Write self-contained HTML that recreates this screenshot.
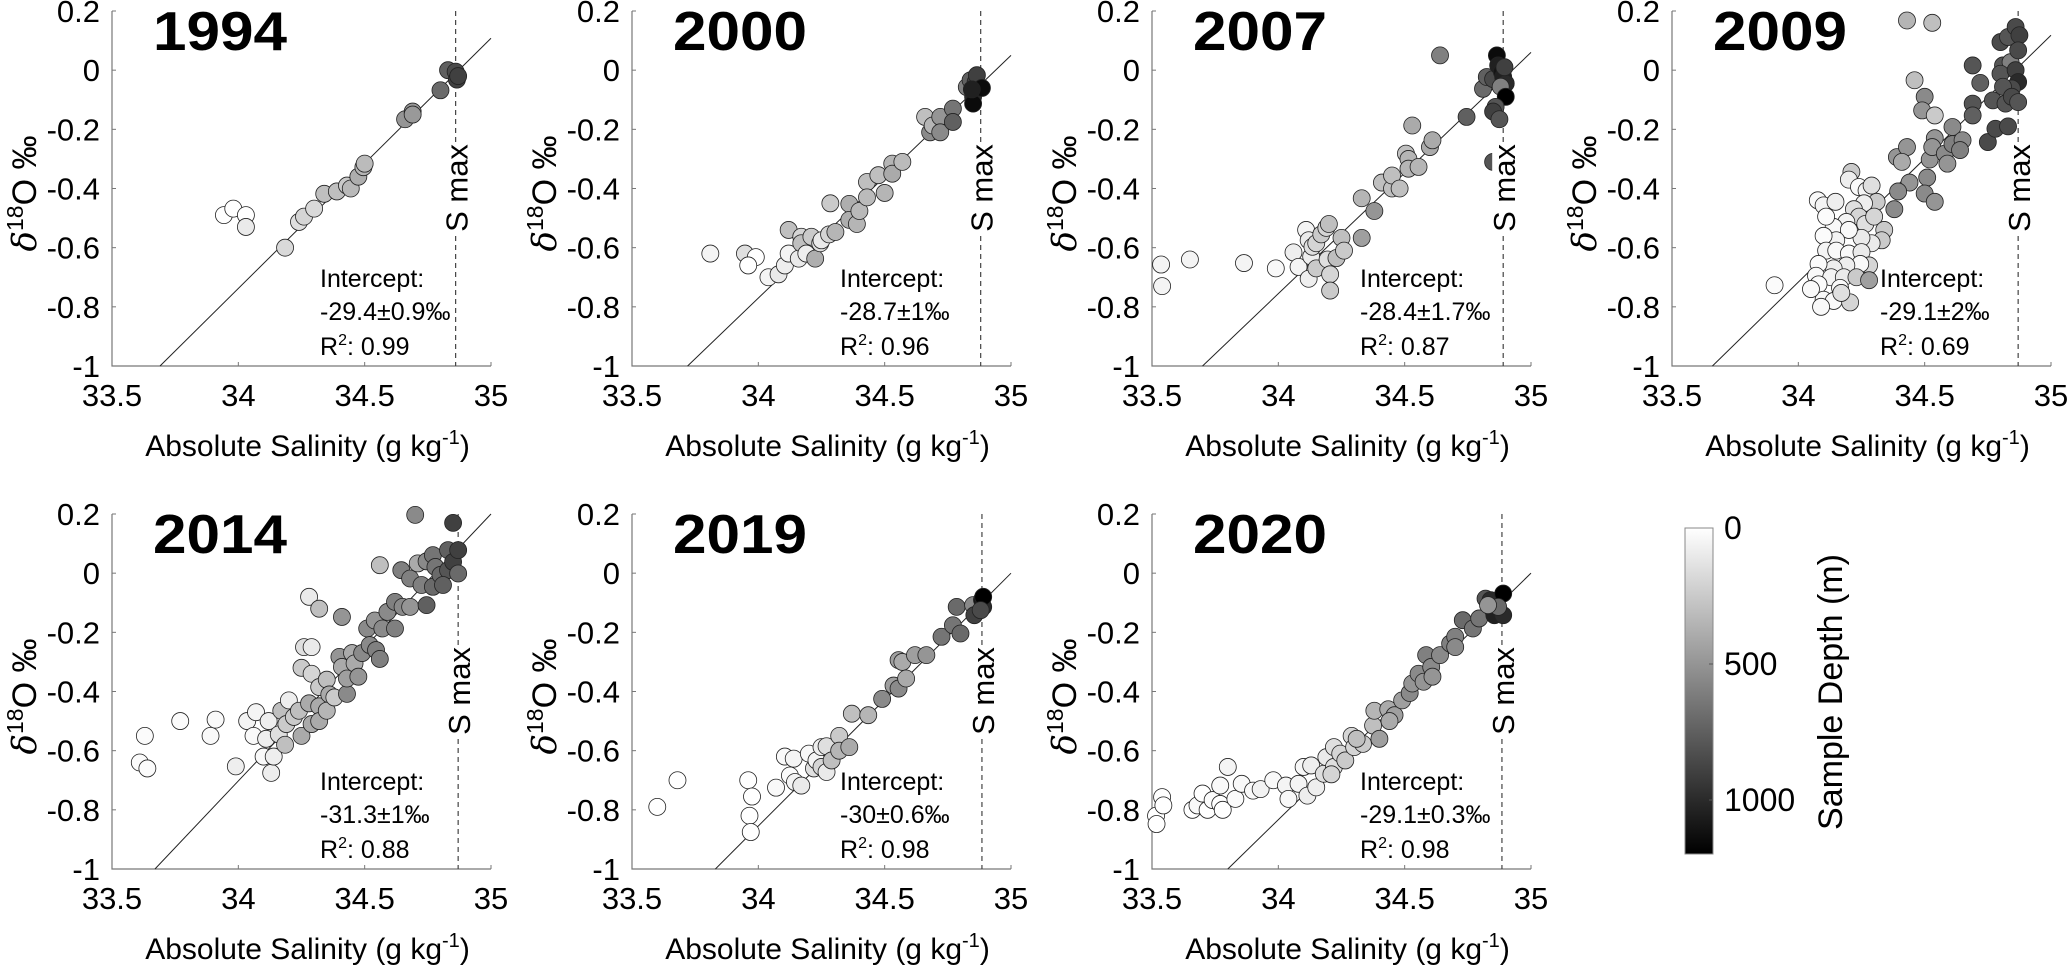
<!DOCTYPE html>
<html><head><meta charset="utf-8"><style>
body{margin:0;background:#fff}
svg{display:block;font-family:"Liberation Sans",Arial,sans-serif}
</style></head><body>
<svg id="fig" width="2067" height="965" viewBox="0 0 2067 965">
<defs><linearGradient id="cbg" x1="0" y1="0" x2="0" y2="1"><stop offset="0" stop-color="#fff"/><stop offset="1" stop-color="#000"/></linearGradient></defs>
<g>
<rect x="1685" y="528" width="28" height="326" fill="url(#cbg)" stroke="#888" stroke-width="1"/>
<line x1="1709" y1="664" x2="1713" y2="664" stroke="#555"/>
<line x1="1709" y1="800" x2="1713" y2="800" stroke="#555"/>
<text x="1724" y="539" font-size="32">0</text>
<text x="1724" y="675" font-size="32">500</text>
<text x="1724" y="811" font-size="32">1000</text>
<text transform="translate(1842,692) rotate(-90)" text-anchor="middle" font-size="34">Sample Depth (m)</text>
</g>
</svg>
<script>
const years=["1994","2000","2007","2009","2014","2019","2020"];
const intercepts=["-29.4±0.9‰","-28.7±1‰","-28.4±1.7‰","-29.1±2‰","-31.3±1‰","-30±0.6‰","-29.1±0.3‰"];
const r2=["0.99","0.96","0.87","0.69","0.88","0.98","0.98"];
const smax=[34.86,34.88,34.89,34.87,34.87,34.885,34.885];
const fitX0=[33.69,33.72,33.70,33.66,33.67,33.83,33.80];
const fitY1=[0.108,0.05,0.06,0.118,0.2,0.0,0.0];
const xTicks=[33.5,34,34.5,35];
const xTickLabels=["33.5","34","34.5","35"];
const yTicks=[0.2,0,-0.2,-0.4,-0.6,-0.8,-1];
const yTickLabels=["0.2","0","-0.2","-0.4","-0.6","-0.8","-1"];

const sal1994=[33.943,33.98,34.03,34.03,34.185,34.24,34.26,34.30,34.34,34.39,34.43,34.445,34.475,34.495,34.50,34.66,34.69,34.69,34.80,34.83,34.86,34.865,34.87];
const d1994=[-0.49,-0.468,-0.49,-0.53,-0.60,-0.513,-0.495,-0.468,-0.418,-0.41,-0.39,-0.40,-0.36,-0.328,-0.316,-0.166,-0.14,-0.15,-0.068,0.0,-0.005,-0.032,-0.02];
const dep1994=[0,0,0,100,180,150,200,180,300,300,250,330,380,350,320,500,480,480,700,750,850,900,900];

const sal2000=[33.81,33.947,33.99,33.96,34.04,34.08,34.105,34.12,34.12,34.16,34.17,34.17,34.19,34.21,34.225,34.245,34.25,34.285,34.28,34.305,34.36,34.36,34.39,34.40,34.43,34.43,34.475,34.50,34.53,34.53,34.57,34.66,34.68,34.69,34.72,34.72,34.77,34.77,34.825,34.84,34.86,34.865,34.85,34.85,34.885,34.845];
const d2000=[-0.62,-0.62,-0.632,-0.66,-0.70,-0.69,-0.66,-0.54,-0.62,-0.637,-0.563,-0.585,-0.62,-0.563,-0.637,-0.585,-0.575,-0.45,-0.555,-0.547,-0.452,-0.506,-0.52,-0.476,-0.378,-0.43,-0.355,-0.415,-0.316,-0.35,-0.31,-0.158,-0.21,-0.187,-0.158,-0.21,-0.13,-0.175,-0.057,-0.034,-0.04,-0.017,-0.09,-0.113,-0.06,-0.065];
const dep2000=[50,150,0,0,50,100,80,300,50,100,200,300,80,250,380,150,100,250,200,350,380,380,350,330,300,320,300,350,350,400,320,300,550,350,500,550,650,750,600,750,900,900,1000,1150,1150,1050];

const sal2007=[33.536,33.54,33.65,33.864,33.99,34.06,34.08,34.11,34.12,34.12,34.13,34.135,34.15,34.15,34.17,34.19,34.195,34.20,34.205,34.205,34.23,34.25,34.26,34.33,34.33,34.38,34.41,34.45,34.45,34.48,34.505,34.515,34.515,34.555,34.53,34.60,34.61,34.64,34.745,34.81,34.825,34.85,34.865,34.87,34.885,34.89,34.90,34.88,34.90,34.86,34.85,34.875,34.85,34.895];
const d2007=[-0.657,-0.73,-0.64,-0.652,-0.67,-0.616,-0.665,-0.54,-0.705,-0.575,-0.63,-0.597,-0.585,-0.67,-0.555,-0.533,-0.64,-0.52,-0.69,-0.745,-0.635,-0.567,-0.61,-0.433,-0.567,-0.476,-0.38,-0.40,-0.356,-0.40,-0.282,-0.30,-0.333,-0.327,-0.187,-0.26,-0.237,0.05,-0.158,-0.063,-0.023,-0.03,0.05,0.016,-0.006,-0.023,-0.045,-0.056,-0.09,-0.124,-0.14,-0.166,-0.31,0.01];
const dep2007=[50,50,50,50,30,80,50,50,80,100,80,150,200,250,250,200,150,300,200,250,300,300,250,350,450,500,300,300,300,300,300,350,350,350,400,400,400,600,750,700,750,850,1150,1050,1100,1050,1000,600,1200,800,900,800,800,900];

const sal2009=[33.906,34.43,34.53,34.46,34.50,34.49,34.54,34.39,34.43,34.41,34.44,34.395,34.38,34.51,34.50,34.54,34.52,34.54,34.53,34.58,34.59,34.61,34.61,34.65,34.64,34.69,34.72,34.69,34.69,34.75,34.78,34.83,34.77,34.80,34.83,34.86,34.875,34.81,34.84,34.80,34.86,34.87,34.845,34.81,34.82,34.845,34.87,34.87,34.077,34.10,34.147,34.21,34.20,34.24,34.27,34.29,34.31,34.26,34.22,34.24,34.19,34.14,34.11,34.265,34.30,34.34,34.33,34.29,34.25,34.20,34.15,34.10,34.11,34.15,34.20,34.25,34.28,34.245,34.19,34.14,34.08,34.07,34.13,34.18,34.23,34.28,34.08,34.165,34.10,34.14,34.205,34.17,34.09,34.05];
const d2009=[-0.727,0.168,0.16,-0.034,-0.09,-0.136,-0.153,-0.294,-0.26,-0.31,-0.38,-0.41,-0.47,-0.363,-0.417,-0.445,-0.302,-0.23,-0.26,-0.282,-0.316,-0.192,-0.25,-0.237,-0.27,0.016,-0.043,-0.113,-0.153,-0.243,-0.198,-0.19,-0.102,0.095,0.112,0.146,0.118,0.016,0.027,-0.012,0.0,-0.04,-0.062,-0.056,-0.113,-0.09,-0.108,0.067,-0.44,-0.457,-0.445,-0.344,-0.37,-0.395,-0.407,-0.39,-0.445,-0.45,-0.47,-0.495,-0.513,-0.53,-0.495,-0.52,-0.495,-0.54,-0.575,-0.585,-0.567,-0.54,-0.575,-0.56,-0.61,-0.61,-0.62,-0.615,-0.66,-0.655,-0.66,-0.67,-0.655,-0.695,-0.70,-0.70,-0.70,-0.71,-0.724,-0.736,-0.776,-0.78,-0.785,-0.753,-0.80,-0.74];
const dep2009=[20,350,300,300,550,500,250,500,500,400,500,550,550,550,550,500,500,500,500,550,500,550,600,550,600,800,750,800,750,850,850,850,800,850,800,850,900,800,600,800,900,1000,850,800,800,850,800,850,30,50,80,250,80,30,50,150,250,80,150,200,50,30,20,150,200,250,250,100,100,30,50,20,50,30,30,100,200,30,80,80,20,30,50,100,250,450,20,30,30,30,200,150,30,30];

const sal2014=[33.61,33.64,33.63,33.77,33.89,33.91,33.99,34.035,34.07,34.06,34.10,34.11,34.13,34.12,34.14,34.16,34.17,34.185,34.19,34.20,34.22,34.24,34.25,34.25,34.26,34.29,34.28,34.32,34.29,34.28,34.29,34.32,34.32,34.32,34.35,34.36,34.35,34.38,34.40,34.41,34.43,34.43,34.41,34.45,34.46,34.475,34.49,34.51,34.52,34.54,34.545,34.56,34.57,34.59,34.62,34.62,34.65,34.68,34.56,34.645,34.68,34.70,34.71,34.745,34.725,34.745,34.77,34.78,34.77,34.80,34.83,34.83,34.85,34.85,34.87,34.87,34.81];
const d2014=[-0.64,-0.66,-0.55,-0.50,-0.55,-0.495,-0.653,-0.50,-0.47,-0.55,-0.62,-0.56,-0.675,-0.50,-0.62,-0.545,-0.465,-0.58,-0.51,-0.43,-0.486,-0.465,-0.32,-0.55,-0.25,-0.25,-0.08,-0.12,-0.34,-0.44,-0.51,-0.385,-0.45,-0.50,-0.36,-0.41,-0.465,-0.42,-0.283,-0.317,-0.408,-0.356,-0.148,-0.27,-0.305,-0.35,-0.27,-0.187,-0.243,-0.16,-0.26,-0.29,-0.187,-0.131,-0.187,-0.097,-0.114,-0.114,0.027,0.01,-0.018,0.197,0.033,0.04,-0.04,-0.108,0.061,0.021,-0.046,-0.006,0.078,0.01,0.17,0.038,0.078,-0.001,-0.04];
const dep2014=[20,20,20,20,30,30,80,50,50,30,30,80,80,80,80,150,300,300,250,80,250,300,250,400,150,100,100,300,200,400,400,250,400,400,300,400,350,250,500,400,550,450,500,400,400,500,550,550,550,500,600,600,550,550,600,600,550,500,300,600,600,550,400,550,600,750,650,650,700,700,750,800,900,900,900,700,750];

const sal2019=[33.60,33.68,33.96,33.975,33.965,33.97,34.07,34.105,34.14,34.125,34.145,34.17,34.20,34.22,34.23,34.25,34.25,34.27,34.27,34.29,34.32,34.32,34.36,34.37,34.435,34.49,34.535,34.555,34.555,34.57,34.585,34.62,34.665,34.725,34.77,34.80,34.785,34.85,34.855,34.885,34.89,34.89,34.88];
const d2019=[-0.79,-0.70,-0.70,-0.755,-0.82,-0.875,-0.725,-0.62,-0.627,-0.684,-0.706,-0.718,-0.61,-0.66,-0.633,-0.588,-0.655,-0.672,-0.585,-0.633,-0.55,-0.60,-0.588,-0.475,-0.48,-0.425,-0.38,-0.39,-0.294,-0.30,-0.356,-0.277,-0.277,-0.215,-0.176,-0.204,-0.114,-0.108,-0.142,-0.09,-0.114,-0.08,-0.125];
const dep2019=[0,0,0,0,0,0,30,30,50,20,50,100,30,150,50,80,200,100,150,300,250,350,400,300,350,550,450,550,450,400,400,450,500,650,650,700,700,550,900,1100,1000,1200,850];

const sal2020=[33.516,33.518,33.54,33.545,33.66,33.68,33.70,33.72,33.74,33.77,33.78,33.80,33.77,33.83,33.855,33.90,33.93,33.98,34.03,34.04,34.08,34.10,34.115,34.13,34.15,34.18,34.19,34.22,34.22,34.245,34.265,34.29,34.30,34.335,34.375,34.40,34.38,34.435,34.46,34.49,34.52,34.53,34.555,34.575,34.585,34.605,34.64,34.68,34.70,34.73,34.77,34.795,34.82,34.84,34.85,34.855,34.89,34.89,34.87,34.83,34.70,34.61,34.44,34.31,34.21];
const d2020=[-0.82,-0.848,-0.757,-0.785,-0.80,-0.785,-0.745,-0.80,-0.767,-0.78,-0.80,-0.655,-0.718,-0.763,-0.712,-0.735,-0.73,-0.70,-0.718,-0.763,-0.712,-0.655,-0.752,-0.65,-0.724,-0.678,-0.622,-0.588,-0.655,-0.61,-0.633,-0.55,-0.588,-0.577,-0.515,-0.56,-0.465,-0.46,-0.48,-0.43,-0.405,-0.373,-0.34,-0.367,-0.277,-0.317,-0.277,-0.238,-0.215,-0.159,-0.187,-0.153,-0.086,-0.091,-0.125,-0.142,-0.069,-0.142,-0.114,-0.108,-0.25,-0.35,-0.50,-0.56,-0.68];
const dep2020=[0,0,0,0,0,30,0,0,20,0,0,50,30,20,30,30,60,30,50,30,50,40,80,80,80,150,100,150,150,200,250,200,200,250,300,450,350,400,450,450,550,500,550,500,600,550,550,600,600,700,650,650,800,1000,800,1050,1200,1000,700,500,550,500,400,300,200];

const salData=[sal1994,sal2000,sal2007,sal2009,sal2014,sal2019,sal2020];
const dData=[d1994,d2000,d2007,d2009,d2014,d2019,d2020];
const depData=[dep1994,dep2000,dep2007,dep2009,dep2014,dep2019,dep2020];

const NS="http://www.w3.org/2000/svg";
const svg=document.getElementById('fig');
const lefts=[112,632,1152,1672], tops=[11,514], W=379, H=355;
function mk(tag,attrs,parent){const e=document.createElementNS(NS,tag);for(const k in attrs)e.setAttribute(k,attrs[k]);parent.appendChild(e);return e;}
function gray(d){const v=Math.round(255*(1-Math.min(d,1200)/1200));return `rgb(${v},${v},${v})`;}

years.forEach((yr,i)=>{
  const L=lefts[i%4], T=tops[Math.floor(i/4)];
  const sx=v=>L+(v-33.5)/1.5*W;
  const sy=v=>T+(0.2-v)/1.2*H;
  const g=mk('g',{},svg);
  
  
  const ax=mk('path',{d:`M${L},${T} V${T+H} H${L+W}`,fill:'none',stroke:'#777','stroke-width':1.2},g);
  
  
  yTicks.forEach((t,k)=>{
    const y=sy(t);
    const tk=mk('line',{x1:L,y1:y,x2:L+4,y2:y,stroke:'#777'},g);
    
    
    const tl=mk('text',{x:L-12,y:y+11,'text-anchor':'end','font-size':31},g);
    tl.textContent=yTickLabels[k];
    
    
  });
  xTicks.forEach((t,k)=>{
    const x=sx(t);
    const tk=mk('line',{x1:x,y1:T+H,x2:x,y2:T+H-4,stroke:'#777'},g);
    
    
    const tl=mk('text',{x:x,y:T+H+40,'text-anchor':'middle','font-size':31},g);
    tl.textContent=xTickLabels[k];
    
    
  });
  const xt=mk('text',{x:L+W/2+6,y:T+H+90,'text-anchor':'middle','font-size':30},g);
  xt.innerHTML='Absolute Salinity (g kg<tspan dy="-12" font-size="20">-1</tspan><tspan dy="12">)</tspan>';
  
  
  const yt=mk('text',{transform:`translate(${L-76},${T+H/2+5}) rotate(-90)`,'text-anchor':'middle','font-size':34},g);
  yt.innerHTML='<tspan font-family="DejaVu Serif" font-style="italic">δ</tspan><tspan dy="-13" font-size="23">18</tspan><tspan dy="13">O ‰</tspan>';
  
  
  const fl=mk('line',{x1:sx(fitX0[i]),y1:sy(-1),x2:sx(35),y2:sy(fitY1[i]),stroke:'#222','stroke-width':1},g);
  
  
  const xs=sx(smax[i]);
  const sl=mk('line',{x1:xs,y1:T,x2:xs,y2:T+H,stroke:'#444','stroke-width':1.2,'stroke-dasharray':'5,4'},g);
  
  
  salData[i].forEach((s,k)=>{
    const c=mk('circle',{cx:sx(s),cy:sy(dData[i][k]),r:8.5,fill:gray(depData[i][k]),stroke:'#222','stroke-width':0.8},g);
    
    
  });
  const bg=mk('rect',{x:xs-11,y:T+135,width:24,height:86,fill:'#fff'},g);
  
  
  const st=mk('text',{transform:`translate(${xs+12},${T+177}) rotate(-90)`,'text-anchor':'middle','font-size':31},g);
  st.textContent='S max';
  
  
  const ti=mk('text',{x:L+41,y:T+39,'font-size':55,'font-weight':'bold',textLength:134,lengthAdjust:'spacingAndGlyphs'},g);
  ti.textContent=yr;
  
  
  const a1=mk('text',{x:L+208,y:T+276,'font-size':25},g);
  a1.textContent='Intercept:';
  
  
  const a2=mk('text',{x:L+208,y:T+309,'font-size':25},g);
  a2.textContent=intercepts[i];
  
  
  const a3=mk('text',{x:L+208,y:T+344,'font-size':25},g);
  a3.innerHTML='R<tspan dy="-10" font-size="16">2</tspan><tspan dy="10">: '+r2[i]+'</tspan>';
  
  
});
</script>
</body></html>
